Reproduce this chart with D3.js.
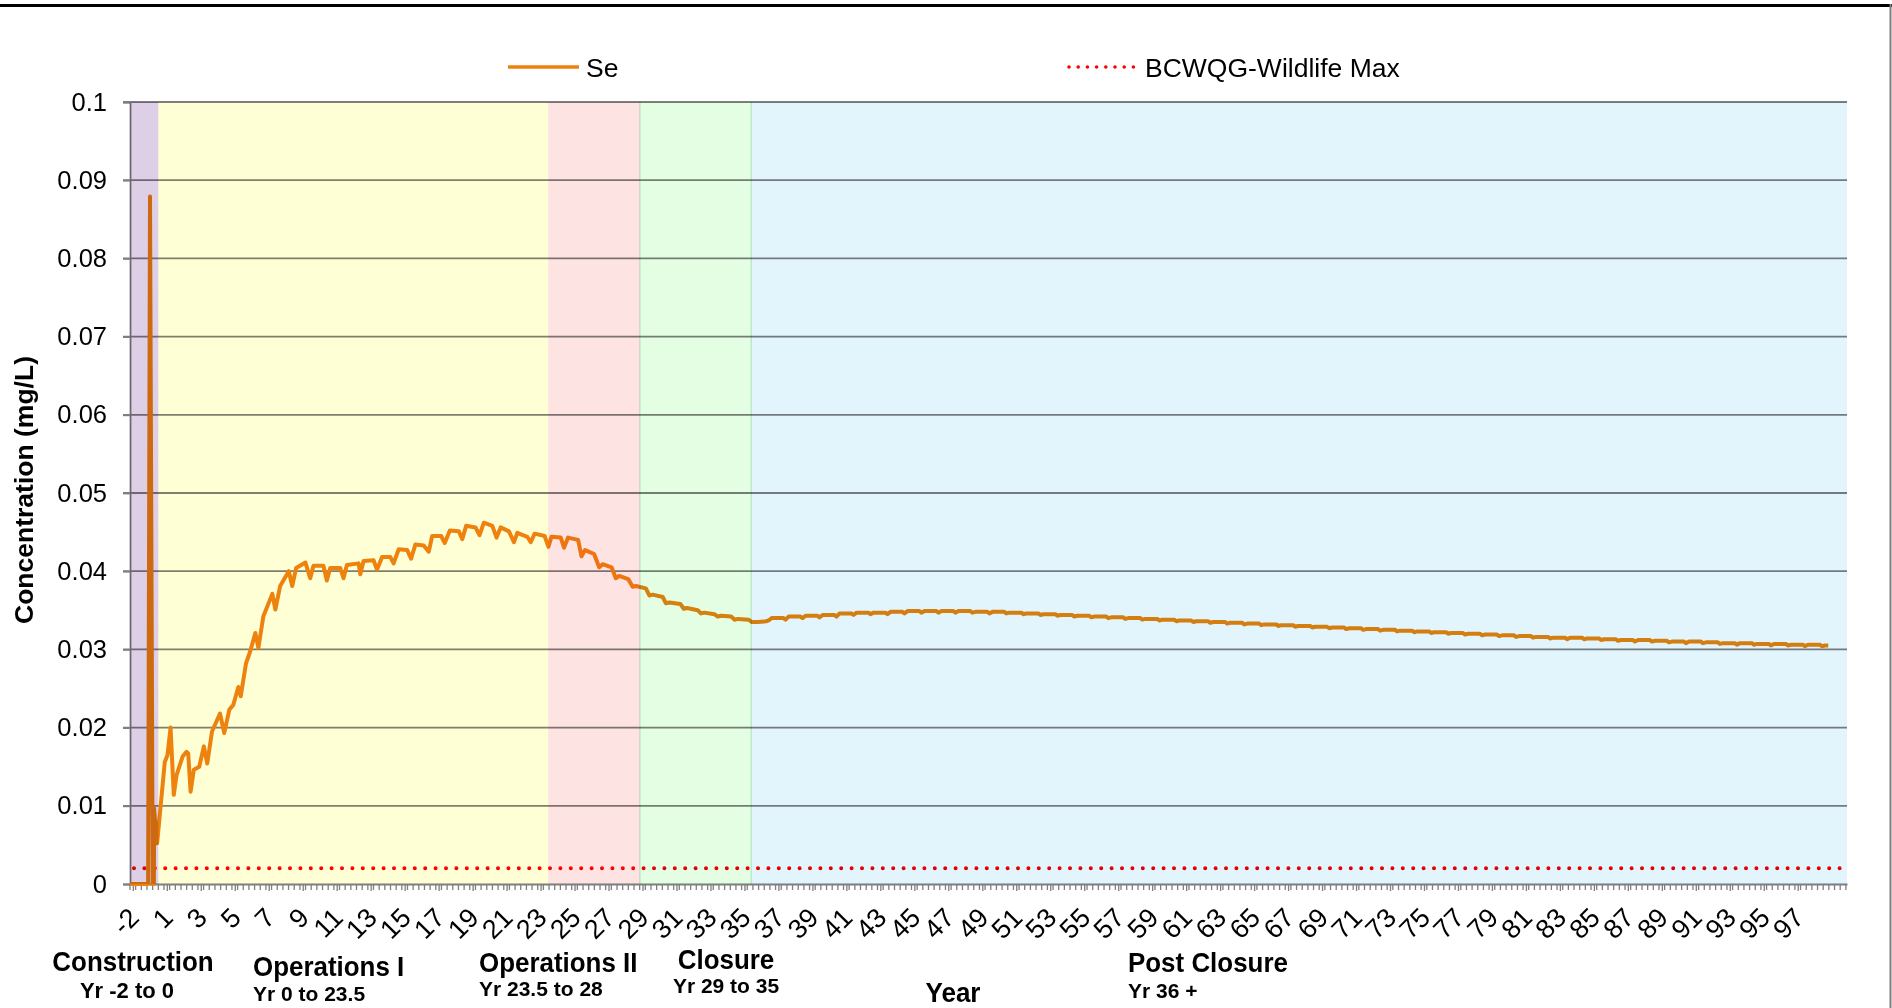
<!DOCTYPE html>
<html><head><meta charset="utf-8">
<script src="https://cdn.jsdelivr.net/npm/d3@7"></script>
<style>
html,body{margin:0;padding:0;background:#fff;}
svg{display:block;}
text{font-family:"Liberation Sans",Arial,Helvetica,sans-serif;fill:#000;}
</style></head><body>
<svg id="chart" width="1892" height="1008"></svg>
<script>
// ---------------- DATA ----------------
// Se concentration (mg/L): construction, operations and closure (year, value)
const seYears = [-1.667,-0.60,-0.49,-0.33,-0.26,-0.25,-0.10,-0.07,0.38,0.54,0.72,0.91,1.07,1.43,1.66,1.76,1.90,2.09,2.41,2.68,2.88,3.16,3.63,3.88,4.18,4.41,4.71,4.85,5.16,5.40,5.71,5.89,6.18,6.71,6.89,7.17,7.68,7.88,8.11,8.66,8.94,9.13,9.72,9.92,10.12,10.71,10.90,11.10,11.79,11.89,12.08,12.67,12.87,13.17,13.66,13.85,14.15,14.65,14.88,15.13,15.62,15.92,16.12,16.65,16.86,17.16,17.69,17.89,18.12,18.67,18.91,19.16,19.66,19.91,20.15,20.64,20.93,21.13,21.72,21.92,22.15,22.74,22.96,23.14,23.69,23.88,24.12,24.71,24.91,25.12,25.65,25.95,26.15,26.68,26.93,27.13,27.66,27.92,28.11,28.70,28.90,29.10,29.69,29.88,30.08,30.73,30.93,31.12,31.75,31.95,32.14,32.73,32.93,33.13,33.72,33.91,34.11,34.74,34.94,35.29,35.78,35.92];
const seValues = [0,0,0.0879,0,0,0.0097,0.0052,0.0052,0.0156,0.0165,0.0200,0.0114,0.0139,0.0163,0.0169,0.0167,0.0118,0.0146,0.0150,0.0176,0.0154,0.0195,0.0218,0.0193,0.0223,0.0229,0.0252,0.0240,0.0282,0.0297,0.0321,0.0302,0.0342,0.0371,0.0351,0.0381,0.0400,0.0381,0.0404,0.0411,0.0391,0.0407,0.0407,0.0388,0.0404,0.0404,0.0391,0.0408,0.0410,0.0396,0.0413,0.0414,0.0402,0.0418,0.0418,0.0410,0.0428,0.0427,0.0416,0.0434,0.0433,0.0425,0.0445,0.0445,0.0436,0.0452,0.0451,0.0441,0.0458,0.0456,0.0446,0.0462,0.0458,0.0443,0.0456,0.0451,0.0437,0.0449,0.0444,0.0437,0.0448,0.0445,0.0431,0.0444,0.0443,0.0430,0.0443,0.0440,0.0419,0.0427,0.0422,0.0405,0.0409,0.0405,0.0391,0.0394,0.0390,0.0380,0.0381,0.0378,0.0369,0.0370,0.0367,0.0359,0.0360,0.0358,0.0352,0.0353,0.0350,0.0346,0.0347,0.0345,0.0342,0.0343,0.0342,0.0338,0.0339,0.0338,0.0335,0.0335,0.0336,0.0337];
// Post closure: yearly level and the small yearly dip
const pcYears = [36,37,38,39,40,41,42,43,44,45,46,47,48,49,50,51,52,53,54,55,56,57,58,59,60,61,62,63,64,65,66,67,68,69,70,71,72,73,74,75,76,77,78,79,80,81,82,83,84,85,86,87,88,89,90,91,92,93,94,95,96,97,98];
const pcValues = [0.0340,0.0342,0.0343,0.0344,0.0346,0.0347,0.0347,0.0348,0.0349,0.0349,0.0349,0.0349,0.0348,0.0348,0.0347,0.0346,0.0345,0.0344,0.0343,0.0342,0.0341,0.0340,0.0339,0.0338,0.0337,0.0336,0.0335,0.0334,0.0333,0.0332,0.0331,0.0330,0.0329,0.0328,0.0327,0.0326,0.0325,0.0324,0.0323,0.0322,0.0321,0.0320,0.0319,0.0318,0.0317,0.0316,0.0315,0.0315,0.0314,0.0313,0.0312,0.0312,0.0311,0.0310,0.0310,0.0309,0.0308,0.0308,0.0307,0.0307,0.0306,0.0306,0.0305];
const pcDips = [0.0338,0.0340,0.0341,0.0342,0.0344,0.0345,0.0345,0.0346,0.0347,0.0347,0.0347,0.0347,0.0346,0.0346,0.0345,0.0344,0.0343,0.0342,0.0341,0.0340,0.0339,0.0338,0.0337,0.0336,0.0335,0.0334,0.0333,0.0332,0.0331,0.0330,0.0329,0.0328,0.0327,0.0326,0.0325,0.0324,0.0323,0.0322,0.0321,0.0320,0.0319,0.0318,0.0317,0.0316,0.0315,0.0314,0.0313,0.0313,0.0312,0.0311,0.0310,0.0310,0.0309,0.0308,0.0308,0.0307,0.0306,0.0306,0.0305,0.0305,0.0304,0.0304,0.0305];
const seriesEnd = 98.3;
// Guideline
const guideName = "BCWQG-Wildlife Max";
const guideValue = 0.002;
const seriesName = "Se";
// Axes
const yTicks = [0,0.01,0.02,0.03,0.04,0.05,0.06,0.07,0.08,0.09,0.1];
const yTickLabels = ["0","0.01","0.02","0.03","0.04","0.05","0.06","0.07","0.08","0.09","0.1"];
const xLabelYears = [-1.5,0.5,2.5,4.5,6.5,8.5,10.5,12.5,14.5,16.5,18.5,20.5,22.5,24.5,26.5,28.5,30.5,32.5,34.5,36.5,38.5,40.5,42.5,44.5,46.5,48.5,50.5,52.5,54.5,56.5,58.5,60.5,62.5,64.5,66.5,68.5,70.5,72.5,74.5,76.5,78.5,80.5,82.5,84.5,86.5,88.5,90.5,92.5,94.5,96.5];
const xLabels = ["-2","1","3","5","7","9","11","13","15","17","19","21","23","25","27","29","31","33","35","37","39","41","43","45","47","49","51","53","55","57","59","61","63","65","67","69","71","73","75","77","79","81","83","85","87","89","91","93","95","97"];
const xTitle = "Year";
const yTitle = "Concentration (mg/L)";
// Phases
const phaseNames = ["Construction","Operations I","Operations II","Closure","Post Closure"];
const phaseRanges = ["Yr -2 to 0","Yr 0 to 23.5","Yr 23.5 to 28","Yr 29 to 35","Yr 36 +"];
const phaseStart = [-1.667,0,22.95,28.35,34.9];
const phaseEnd = [0,22.95,28.35,34.9,99.4];
const phaseColors = ["#DCCFE6","#FFFFD6","#FEE3E3","#E3FEE3","#E3F5FC"];

// ---------------- LAYOUT ----------------
const L = 130, R = 1847, T = 102, B = 884;
const svg = d3.select("#chart");
const x = d3.scaleLinear().domain([-1.667, 99.4]).range([L, R]);
const y = d3.scaleLinear().domain([0, 0.1]).range([B, T]);
const gridColor = "#7f7f7f";
const seColor = "#EE8210";

// frame
svg.append("line").attr("x1",0).attr("x2",1892).attr("y1",5.5).attr("y2",5.5).attr("stroke","#000").attr("stroke-width",3);
svg.append("line").attr("x1",1890.5).attr("x2",1890.5).attr("y1",4).attr("y2",1008).attr("stroke","#7f7f7f").attr("stroke-width",2);

// gridlines
svg.append("g").selectAll("line").data(yTicks.slice(1)).join("line")
  .attr("x1", L - 7).attr("x2", R)
  .attr("y1", d => y(d)).attr("y2", d => y(d))
  .attr("stroke", gridColor).attr("stroke-width", 1.8);

// y axis
const yAxis = svg.append("g").attr("transform", `translate(${L},0)`)
  .call(d3.axisLeft(y).tickValues(yTicks).tickFormat((d,i)=>yTickLabels[i]).tickSize(7).tickPadding(16));
yAxis.select(".domain").attr("stroke", gridColor).attr("stroke-width", 1.8);
yAxis.selectAll(".tick line").attr("stroke", gridColor).attr("stroke-width", 1.8);
yAxis.selectAll("text").style("font-size","25.5px").attr("fill","#000");

// x axis minor ticks
const minorTicks = d3.range(0, 305).map(i => -1.667 + i/3).filter(v => v <= 99.4);
svg.append("g").selectAll("line").data(minorTicks).join("line")
  .attr("x1", d => x(d)).attr("x2", d => x(d))
  .attr("y1", B).attr("y2", B + 6)
  .attr("stroke", gridColor).attr("stroke-width", 1.3);

const xAxis = svg.append("g").attr("transform", `translate(0,${B})`)
  .call(d3.axisBottom(x).tickValues(xLabelYears).tickFormat((d,i)=>xLabels[i]).tickSize(7).tickSizeOuter(0));
xAxis.select(".domain").attr("stroke", gridColor).attr("stroke-width", 1.8);
xAxis.selectAll(".tick line").attr("stroke", gridColor).attr("stroke-width", 1.3);
xAxis.selectAll("text")
  .style("font-size","27px").attr("fill","#000")
  .attr("y", null).attr("dy", null).attr("x", null)
  .attr("text-anchor","end").attr("dominant-baseline","central")
  .attr("transform","translate(1,29) rotate(-45)");

// guideline (dotted)
svg.append("line")
  .attr("x1", x(-1.667) + 4).attr("x2", R - 4)
  .attr("y1", y(guideValue)).attr("y2", y(guideValue))
  .attr("stroke","#FF0000").attr("stroke-width",4)
  .attr("stroke-linecap","round").attr("stroke-dasharray","0 10.4");

// Se series
const pts = seYears.map((t,i)=>[t, seValues[i]]);
pcYears.forEach((t,i)=>{
  if (t < 98) {
    pts.push([t + 0.1, pcValues[i]]);
    pts.push([t + 0.8, pcValues[i]]);
    pts.push([t + 0.92, pcDips[i]]);
  } else {
    pts.push([t + 0.1, pcValues[i]]);
    pts.push([seriesEnd, pcDips[i]]);
  }
});
svg.append("path").datum(pts)
  .attr("d", d3.line().x(d=>x(d[0])).y(d=>y(d[1])))
  .attr("fill","none").attr("stroke", seColor).attr("stroke-width",4)
  .attr("stroke-linejoin","round");

// phase bands (multiplied over everything in the plot)
svg.append("g").selectAll("rect").data(phaseNames).join("rect")
  .style("mix-blend-mode","multiply")
  .attr("x", (d,i)=>x(phaseStart[i])).attr("width",(d,i)=>x(phaseEnd[i]) - x(phaseStart[i]))
  .attr("y", T).attr("height", B - T)
  .attr("fill", (d,i)=>phaseColors[i]);
// faint edges of the closure band
svg.append("g").selectAll("line").data([phaseStart[3], phaseEnd[3]]).join("line")
  .style("mix-blend-mode","multiply")
  .attr("x1", d => x(d)).attr("x2", d => x(d)).attr("y1", T).attr("y2", B)
  .attr("stroke", "#D2EFDA").attr("stroke-width", 1.5);

// legend
svg.append("line").attr("x1",508).attr("x2",579).attr("y1",67).attr("y2",67).attr("stroke",seColor).attr("stroke-width",3.5);
svg.append("text").attr("x",586).attr("y",76.5).style("font-size","26.5px").text(seriesName);
svg.append("line").attr("x1",1069).attr("x2",1134).attr("y1",67).attr("y2",67)
  .attr("stroke","#FF0000").attr("stroke-width",3.6).attr("stroke-linecap","round").attr("stroke-dasharray","0 9.2");
svg.append("text").attr("x",1145).attr("y",76.5).style("font-size","26.5px").text(guideName);

// axis titles
svg.append("text").attr("transform","translate(33,490) rotate(-90)").attr("text-anchor","middle")
  .style("font-size","26.5px").style("font-weight","bold").text(yTitle);
svg.append("text").attr("transform","translate(953,1002) scale(0.93,1)").attr("text-anchor","middle")
  .style("font-size","28px").style("font-weight","bold").text(xTitle);

// phase labels
const phaseLabelPos = [
  {x:133, x2:127, a:"middle", y1:971, y2:998, s2:22},
  {x:253, x2:253, a:"start", y1:976, y2:1001, s2:21},
  {x:479, x2:479, a:"start", y1:972, y2:996, s2:21},
  {x:726, x2:726, a:"middle", y1:969, y2:993, s2:21},
  {x:1128, x2:1128, a:"start", y1:972, y2:998, s2:21}
];
phaseNames.forEach((n,i)=>{
  const p = phaseLabelPos[i];
  svg.append("text").attr("transform",`translate(${p.x},${p.y1}) scale(0.91,1)`).attr("text-anchor",p.a)
    .style("font-size","28.5px").style("font-weight","bold").text(n);
  svg.append("text").attr("x",p.x2).attr("y",p.y2).attr("text-anchor",p.a)
    .style("font-size",p.s2+"px").style("font-weight","bold").text(phaseRanges[i]);
});
</script>
</body></html>
